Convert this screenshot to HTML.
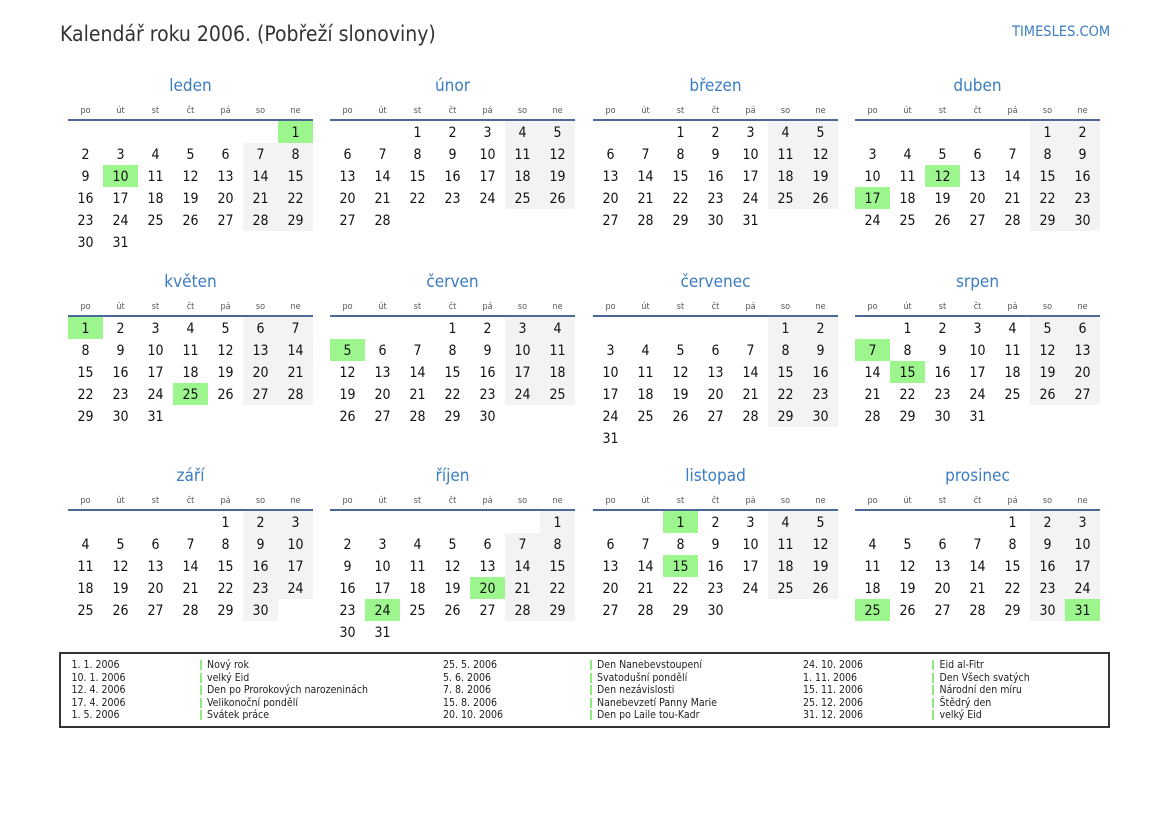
<!DOCTYPE html>
<html lang="cs">
<head>
<meta charset="utf-8">
<style>
html,body{margin:0;padding:0}
body{width:1169px;height:827px;background:#fff;position:relative;overflow:hidden;font-family:"DejaVu Sans Condensed","DejaVu Sans","Liberation Sans",sans-serif;font-stretch:condensed;}
.title{position:absolute;left:60px;top:22px;font-size:21px;line-height:24px;color:#333;white-space:nowrap}
.site{position:absolute;left:1012px;top:24px;font-size:14.5px;line-height:17px;color:#3b7cc2;white-space:nowrap}
.m{position:absolute;width:245px;height:200px}
.t{position:absolute;left:0;top:1px;width:245px;height:22px;line-height:22px;text-align:center;font-size:17px;color:#3b7cc2}
.d{position:absolute;left:0;top:29px;display:grid;grid-template-columns:repeat(7,35px);height:16px;line-height:16px;font-size:9px;color:#555;text-align:center}
.l{position:absolute;left:0;top:45px;width:245px;height:2px;background:#4a6898}
.g{position:absolute;left:0;top:47px;display:grid;grid-template-columns:repeat(7,35px);grid-auto-rows:22px}
.g b{font-weight:normal;text-align:center;line-height:24px;font-size:14px;color:#111;overflow:visible}
.g b.w{background:#f3f3f3}
.g b.h{background:#9df58d}
.box{position:absolute;left:59px;top:652px;width:1047px;height:72px;border:2px solid #333}
.lc{position:absolute;top:659px;font-size:10.5px;line-height:12.5px;color:#222}
.lc div{white-space:nowrap}
.lb div{position:relative;padding-left:7.5px}
.lb div:before{content:"";position:absolute;left:0;top:1.25px;width:2px;height:10px;background:#8fed7f}
</style>
</head>
<body>
<div class="title">Kalendář roku 2006. (Pobřeží slonoviny)</div>
<div class="site">TIMESLES.COM</div>

<!-- leden -->
<div class="m" style="left:68px;top:74px">
<div class="t">leden</div>
<div class="d"><span>po</span><span>út</span><span>st</span><span>čt</span><span>pá</span><span>so</span><span>ne</span></div>
<div class="l"></div>
<div class="g">
<b class="h" style="grid-column-start:7">1</b>
<b>2</b><b>3</b><b>4</b><b>5</b><b>6</b><b class="w">7</b><b class="w">8</b>
<b>9</b><b class="h">10</b><b>11</b><b>12</b><b>13</b><b class="w">14</b><b class="w">15</b>
<b>16</b><b>17</b><b>18</b><b>19</b><b>20</b><b class="w">21</b><b class="w">22</b>
<b>23</b><b>24</b><b>25</b><b>26</b><b>27</b><b class="w">28</b><b class="w">29</b>
<b>30</b><b>31</b>
</div>
</div>

<!-- únor -->
<div class="m" style="left:330px;top:74px">
<div class="t">únor</div>
<div class="d"><span>po</span><span>út</span><span>st</span><span>čt</span><span>pá</span><span>so</span><span>ne</span></div>
<div class="l"></div>
<div class="g">
<b style="grid-column-start:3">1</b><b>2</b><b>3</b><b class="w">4</b><b class="w">5</b>
<b>6</b><b>7</b><b>8</b><b>9</b><b>10</b><b class="w">11</b><b class="w">12</b>
<b>13</b><b>14</b><b>15</b><b>16</b><b>17</b><b class="w">18</b><b class="w">19</b>
<b>20</b><b>21</b><b>22</b><b>23</b><b>24</b><b class="w">25</b><b class="w">26</b>
<b>27</b><b>28</b>
</div>
</div>

<!-- březen -->
<div class="m" style="left:593px;top:74px">
<div class="t">březen</div>
<div class="d"><span>po</span><span>út</span><span>st</span><span>čt</span><span>pá</span><span>so</span><span>ne</span></div>
<div class="l"></div>
<div class="g">
<b style="grid-column-start:3">1</b><b>2</b><b>3</b><b class="w">4</b><b class="w">5</b>
<b>6</b><b>7</b><b>8</b><b>9</b><b>10</b><b class="w">11</b><b class="w">12</b>
<b>13</b><b>14</b><b>15</b><b>16</b><b>17</b><b class="w">18</b><b class="w">19</b>
<b>20</b><b>21</b><b>22</b><b>23</b><b>24</b><b class="w">25</b><b class="w">26</b>
<b>27</b><b>28</b><b>29</b><b>30</b><b>31</b>
</div>
</div>

<!-- duben -->
<div class="m" style="left:855px;top:74px">
<div class="t">duben</div>
<div class="d"><span>po</span><span>út</span><span>st</span><span>čt</span><span>pá</span><span>so</span><span>ne</span></div>
<div class="l"></div>
<div class="g">
<b class="w" style="grid-column-start:6">1</b><b class="w">2</b>
<b>3</b><b>4</b><b>5</b><b>6</b><b>7</b><b class="w">8</b><b class="w">9</b>
<b>10</b><b>11</b><b class="h">12</b><b>13</b><b>14</b><b class="w">15</b><b class="w">16</b>
<b class="h">17</b><b>18</b><b>19</b><b>20</b><b>21</b><b class="w">22</b><b class="w">23</b>
<b>24</b><b>25</b><b>26</b><b>27</b><b>28</b><b class="w">29</b><b class="w">30</b>
</div>
</div>

<!-- květen -->
<div class="m" style="left:68px;top:270px">
<div class="t">květen</div>
<div class="d"><span>po</span><span>út</span><span>st</span><span>čt</span><span>pá</span><span>so</span><span>ne</span></div>
<div class="l"></div>
<div class="g">
<b class="h">1</b><b>2</b><b>3</b><b>4</b><b>5</b><b class="w">6</b><b class="w">7</b>
<b>8</b><b>9</b><b>10</b><b>11</b><b>12</b><b class="w">13</b><b class="w">14</b>
<b>15</b><b>16</b><b>17</b><b>18</b><b>19</b><b class="w">20</b><b class="w">21</b>
<b>22</b><b>23</b><b>24</b><b class="h">25</b><b>26</b><b class="w">27</b><b class="w">28</b>
<b>29</b><b>30</b><b>31</b>
</div>
</div>

<!-- červen -->
<div class="m" style="left:330px;top:270px">
<div class="t">červen</div>
<div class="d"><span>po</span><span>út</span><span>st</span><span>čt</span><span>pá</span><span>so</span><span>ne</span></div>
<div class="l"></div>
<div class="g">
<b style="grid-column-start:4">1</b><b>2</b><b class="w">3</b><b class="w">4</b>
<b class="h">5</b><b>6</b><b>7</b><b>8</b><b>9</b><b class="w">10</b><b class="w">11</b>
<b>12</b><b>13</b><b>14</b><b>15</b><b>16</b><b class="w">17</b><b class="w">18</b>
<b>19</b><b>20</b><b>21</b><b>22</b><b>23</b><b class="w">24</b><b class="w">25</b>
<b>26</b><b>27</b><b>28</b><b>29</b><b>30</b>
</div>
</div>

<!-- červenec -->
<div class="m" style="left:593px;top:270px">
<div class="t">červenec</div>
<div class="d"><span>po</span><span>út</span><span>st</span><span>čt</span><span>pá</span><span>so</span><span>ne</span></div>
<div class="l"></div>
<div class="g">
<b class="w" style="grid-column-start:6">1</b><b class="w">2</b>
<b>3</b><b>4</b><b>5</b><b>6</b><b>7</b><b class="w">8</b><b class="w">9</b>
<b>10</b><b>11</b><b>12</b><b>13</b><b>14</b><b class="w">15</b><b class="w">16</b>
<b>17</b><b>18</b><b>19</b><b>20</b><b>21</b><b class="w">22</b><b class="w">23</b>
<b>24</b><b>25</b><b>26</b><b>27</b><b>28</b><b class="w">29</b><b class="w">30</b>
<b>31</b>
</div>
</div>

<!-- srpen -->
<div class="m" style="left:855px;top:270px">
<div class="t">srpen</div>
<div class="d"><span>po</span><span>út</span><span>st</span><span>čt</span><span>pá</span><span>so</span><span>ne</span></div>
<div class="l"></div>
<div class="g">
<b style="grid-column-start:2">1</b><b>2</b><b>3</b><b>4</b><b class="w">5</b><b class="w">6</b>
<b class="h">7</b><b>8</b><b>9</b><b>10</b><b>11</b><b class="w">12</b><b class="w">13</b>
<b>14</b><b class="h">15</b><b>16</b><b>17</b><b>18</b><b class="w">19</b><b class="w">20</b>
<b>21</b><b>22</b><b>23</b><b>24</b><b>25</b><b class="w">26</b><b class="w">27</b>
<b>28</b><b>29</b><b>30</b><b>31</b>
</div>
</div>

<!-- září -->
<div class="m" style="left:68px;top:464px">
<div class="t">září</div>
<div class="d"><span>po</span><span>út</span><span>st</span><span>čt</span><span>pá</span><span>so</span><span>ne</span></div>
<div class="l"></div>
<div class="g">
<b style="grid-column-start:5">1</b><b class="w">2</b><b class="w">3</b>
<b>4</b><b>5</b><b>6</b><b>7</b><b>8</b><b class="w">9</b><b class="w">10</b>
<b>11</b><b>12</b><b>13</b><b>14</b><b>15</b><b class="w">16</b><b class="w">17</b>
<b>18</b><b>19</b><b>20</b><b>21</b><b>22</b><b class="w">23</b><b class="w">24</b>
<b>25</b><b>26</b><b>27</b><b>28</b><b>29</b><b class="w">30</b>
</div>
</div>

<!-- říjen -->
<div class="m" style="left:330px;top:464px">
<div class="t">říjen</div>
<div class="d"><span>po</span><span>út</span><span>st</span><span>čt</span><span>pá</span><span>so</span><span>ne</span></div>
<div class="l"></div>
<div class="g">
<b class="w" style="grid-column-start:7">1</b>
<b>2</b><b>3</b><b>4</b><b>5</b><b>6</b><b class="w">7</b><b class="w">8</b>
<b>9</b><b>10</b><b>11</b><b>12</b><b>13</b><b class="w">14</b><b class="w">15</b>
<b>16</b><b>17</b><b>18</b><b>19</b><b class="h">20</b><b class="w">21</b><b class="w">22</b>
<b>23</b><b class="h">24</b><b>25</b><b>26</b><b>27</b><b class="w">28</b><b class="w">29</b>
<b>30</b><b>31</b>
</div>
</div>

<!-- listopad -->
<div class="m" style="left:593px;top:464px">
<div class="t">listopad</div>
<div class="d"><span>po</span><span>út</span><span>st</span><span>čt</span><span>pá</span><span>so</span><span>ne</span></div>
<div class="l"></div>
<div class="g">
<b class="h" style="grid-column-start:3">1</b><b>2</b><b>3</b><b class="w">4</b><b class="w">5</b>
<b>6</b><b>7</b><b>8</b><b>9</b><b>10</b><b class="w">11</b><b class="w">12</b>
<b>13</b><b>14</b><b class="h">15</b><b>16</b><b>17</b><b class="w">18</b><b class="w">19</b>
<b>20</b><b>21</b><b>22</b><b>23</b><b>24</b><b class="w">25</b><b class="w">26</b>
<b>27</b><b>28</b><b>29</b><b>30</b>
</div>
</div>

<!-- prosinec -->
<div class="m" style="left:855px;top:464px">
<div class="t">prosinec</div>
<div class="d"><span>po</span><span>út</span><span>st</span><span>čt</span><span>pá</span><span>so</span><span>ne</span></div>
<div class="l"></div>
<div class="g">
<b style="grid-column-start:5">1</b><b class="w">2</b><b class="w">3</b>
<b>4</b><b>5</b><b>6</b><b>7</b><b>8</b><b class="w">9</b><b class="w">10</b>
<b>11</b><b>12</b><b>13</b><b>14</b><b>15</b><b class="w">16</b><b class="w">17</b>
<b>18</b><b>19</b><b>20</b><b>21</b><b>22</b><b class="w">23</b><b class="w">24</b>
<b class="h">25</b><b>26</b><b>27</b><b>28</b><b>29</b><b class="w">30</b><b class="h">31</b>
</div>
</div>

<!-- legend -->
<div class="box"></div>
<div class="lc" style="left:71.5px">
<div>1. 1. 2006</div><div>10. 1. 2006</div><div>12. 4. 2006</div><div>17. 4. 2006</div><div>1. 5. 2006</div>
</div>
<div class="lc lb" style="left:199.5px">
<div>Nový rok</div><div>velký Eid</div><div>Den po Prorokových narozeninách</div><div>Velikonoční pondělí</div><div>Svátek práce</div>
</div>
<div class="lc" style="left:443px">
<div>25. 5. 2006</div><div>5. 6. 2006</div><div>7. 8. 2006</div><div>15. 8. 2006</div><div>20. 10. 2006</div>
</div>
<div class="lc lb" style="left:589.5px">
<div>Den Nanebevstoupení</div><div>Svatodušní pondělí</div><div>Den nezávislosti</div><div>Nanebevzetí Panny Marie</div><div>Den po Laile tou-Kadr</div>
</div>
<div class="lc" style="left:803px">
<div>24. 10. 2006</div><div>1. 11. 2006</div><div>15. 11. 2006</div><div>25. 12. 2006</div><div>31. 12. 2006</div>
</div>
<div class="lc lb" style="left:932px">
<div>Eid al-Fitr</div><div>Den Všech svatých</div><div>Národní den míru</div><div>Štědrý den</div><div>velký Eid</div>
</div>
</body>
</html>
